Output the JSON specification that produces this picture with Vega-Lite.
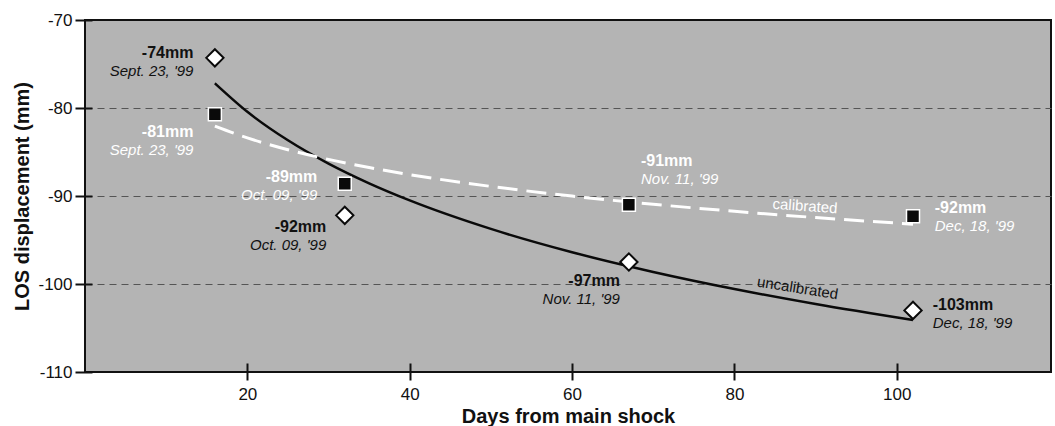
{
  "$schema": "https://vega.github.io/schema/vega-lite/v6.json",
  "width": 966,
  "height": 352,
  "autosize": {"type": "none"},
  "padding": {"left": 85, "top": 20, "right": 4, "bottom": 54},
  "background": "white",
  "config": {
    "view": {"fill": "#b4b4b4", "stroke": "#111111", "strokeWidth": 2},
    "font": "Liberation Sans"
  },
  "datasets": {
    "points": [
      {"series": "uncalibrated", "day": 16, "los": -74.3},
      {"series": "uncalibrated", "day": 32, "los": -92.2},
      {"series": "uncalibrated", "day": 67, "los": -97.5},
      {"series": "uncalibrated", "day": 102, "los": -103.0},
      {"series": "calibrated", "day": 16, "los": -80.7},
      {"series": "calibrated", "day": 32, "los": -88.6},
      {"series": "calibrated", "day": 67, "los": -91.0},
      {"series": "calibrated", "day": 102, "los": -92.3}
    ],
    "curves": [
      {"series": "uncalibrated", "day": 16, "los": -77.19},
      {"series": "uncalibrated", "day": 20, "los": -80.43},
      {"series": "uncalibrated", "day": 25, "los": -83.67},
      {"series": "uncalibrated", "day": 30, "los": -86.32},
      {"series": "uncalibrated", "day": 35, "los": -88.56},
      {"series": "uncalibrated", "day": 40, "los": -90.5},
      {"series": "uncalibrated", "day": 50, "los": -93.74},
      {"series": "uncalibrated", "day": 60, "los": -96.39},
      {"series": "uncalibrated", "day": 70, "los": -98.63},
      {"series": "uncalibrated", "day": 80, "los": -100.57},
      {"series": "uncalibrated", "day": 90, "los": -102.28},
      {"series": "uncalibrated", "day": 102, "los": -104.1},
      {"series": "calibrated", "day": 16, "los": -82.05},
      {"series": "calibrated", "day": 20, "los": -83.39},
      {"series": "calibrated", "day": 25, "los": -84.74},
      {"series": "calibrated", "day": 30, "los": -85.84},
      {"series": "calibrated", "day": 35, "los": -86.76},
      {"series": "calibrated", "day": 40, "los": -87.57},
      {"series": "calibrated", "day": 50, "los": -88.91},
      {"series": "calibrated", "day": 60, "los": -90.01},
      {"series": "calibrated", "day": 70, "los": -90.94},
      {"series": "calibrated", "day": 80, "los": -91.74},
      {"series": "calibrated", "day": 90, "los": -92.45},
      {"series": "calibrated", "day": 102, "los": -93.2}
    ],
    "labels": [
      {"series": "uncalibrated", "side": "left", "lx": 13.36, "ly": -73.75, "val": "-74mm", "date": "Sept. 23, '99"},
      {"series": "uncalibrated", "side": "left", "lx": 29.72, "ly": -93.52, "val": "-92mm", "date": "Oct. 09, '99"},
      {"series": "uncalibrated", "side": "left", "lx": 65.9, "ly": -99.66, "val": "-97mm", "date": "Nov. 11, '99"},
      {"series": "uncalibrated", "side": "right", "lx": 104.43, "ly": -102.39, "val": "-103mm", "date": "Dec, 18, '99"},
      {"series": "calibrated", "side": "left", "lx": 13.36, "ly": -82.73, "val": "-81mm", "date": "Sept. 23, '99"},
      {"series": "calibrated", "side": "left", "lx": 28.62, "ly": -87.84, "val": "-89mm", "date": "Oct. 09, '99"},
      {"series": "calibrated", "side": "right", "lx": 68.49, "ly": -86.02, "val": "-91mm", "date": "Nov. 11, '99"},
      {"series": "calibrated", "side": "right", "lx": 104.68, "ly": -91.36, "val": "-92mm", "date": "Dec, 18, '99"}
    ],
    "curveLabels": [
      {"series": "calibrated", "lx": 88.7, "ly": -91.14, "text": "calibrated"},
      {"series": "uncalibrated", "lx": 87.8, "ly": -100.45, "text": "uncalibrated"}
    ]
  },
  "encoding": {
    "x": {
      "field": "day", "type": "quantitative",
      "scale": {"domain": [0, 119], "nice": false, "zero": false},
      "axis": {
        "values": [20, 40, 60, 80, 100],
        "grid": false, "domain": false, "offset": -9,
        "tickSize": 17, "tickWidth": 2, "tickColor": "#111111",
        "labelFontSize": 17, "labelColor": "#111111", "labelPadding": 6,
        "title": "Days from main shock", "titleFontSize": 20, "titleFontWeight": "bold",
        "titleColor": "#111111", "titleY": 53, "titleBaseline": "middle"
      }
    },
    "y": {
      "field": "los", "type": "quantitative",
      "scale": {"domain": [-110, -70], "nice": false, "zero": false},
      "axis": {
        "values": [-110, -100, -90, -80, -70],
        "labelExpr": "replace(datum.label, '\u2212', '-')",
        "domain": false, "offset": -7,
        "tickSize": 17, "tickWidth": 2, "tickColor": "#111111",
        "labelFontSize": 17, "labelColor": "#111111", "labelPadding": 3,
        "grid": true, "gridDash": [7, 5], "gridColor": "#555555", "gridWidth": 1,
        "gridOpacity": {"condition": {"test": "datum.value === -70 || datum.value === -110", "value": 0}, "value": 1},
        "title": "LOS displacement (mm)", "titleFontSize": 20, "titleFontWeight": "bold",
        "titleColor": "#111111", "titleX": -70, "titleBaseline": "middle"
      }
    }
  },
  "layer": [
    {
      "data": {"name": "curves"},
      "transform": [{"filter": "datum.series === 'uncalibrated'"}],
      "mark": {"type": "line", "color": "#0a0a0a", "strokeWidth": 2.5, "interpolate": "monotone"},
      "encoding": {}
    },
    {
      "data": {"name": "curves"},
      "transform": [{"filter": "datum.series === 'calibrated'"}],
      "mark": {"type": "line", "color": "#ffffff", "strokeWidth": 3, "strokeDash": [20, 9], "interpolate": "monotone"},
      "encoding": {}
    },
    {
      "data": {"name": "points"},
      "transform": [{"filter": "datum.series === 'uncalibrated'"}],
      "mark": {"type": "point", "shape": "diamond", "size": 300, "filled": true, "fill": "#ffffff", "stroke": "#0a0a0a", "strokeWidth": 2, "opacity": 1}
    },
    {
      "data": {"name": "points"},
      "transform": [{"filter": "datum.series === 'calibrated'"}],
      "mark": {"type": "point", "shape": "square", "size": 169, "filled": true, "fill": "#0a0a0a", "stroke": "#ffffff", "strokeWidth": 1.5, "opacity": 1}
    },
    {
      "data": {"name": "labels"},
      "transform": [{"filter": "datum.side === 'left'"}],
      "mark": {"type": "text", "align": "right", "baseline": "middle", "fontSize": 16, "fontWeight": "bold"},
      "encoding": {
        "x": {"field": "lx", "type": "quantitative"},
        "y": {"field": "ly", "type": "quantitative"},
        "text": {"field": "val"},
        "color": {"field": "series", "type": "nominal", "scale": {"domain": ["uncalibrated", "calibrated"], "range": ["#111111", "#ffffff"]}, "legend": null}
      }
    },
    {
      "data": {"name": "labels"},
      "transform": [{"filter": "datum.side === 'right'"}],
      "mark": {"type": "text", "align": "left", "baseline": "middle", "fontSize": 16, "fontWeight": "bold"},
      "encoding": {
        "x": {"field": "lx", "type": "quantitative"},
        "y": {"field": "ly", "type": "quantitative"},
        "text": {"field": "val"},
        "color": {"field": "series", "type": "nominal", "scale": {"domain": ["uncalibrated", "calibrated"], "range": ["#111111", "#ffffff"]}, "legend": null}
      }
    },
    {
      "data": {"name": "labels"},
      "transform": [{"filter": "datum.side === 'left'"}],
      "mark": {"type": "text", "align": "right", "baseline": "middle", "fontSize": 15, "fontStyle": "italic", "dy": 18},
      "encoding": {
        "x": {"field": "lx", "type": "quantitative"},
        "y": {"field": "ly", "type": "quantitative"},
        "text": {"field": "date"},
        "color": {"field": "series", "type": "nominal", "scale": {"domain": ["uncalibrated", "calibrated"], "range": ["#111111", "#ffffff"]}, "legend": null}
      }
    },
    {
      "data": {"name": "labels"},
      "transform": [{"filter": "datum.side === 'right'"}],
      "mark": {"type": "text", "align": "left", "baseline": "middle", "fontSize": 15, "fontStyle": "italic", "dy": 18},
      "encoding": {
        "x": {"field": "lx", "type": "quantitative"},
        "y": {"field": "ly", "type": "quantitative"},
        "text": {"field": "date"},
        "color": {"field": "series", "type": "nominal", "scale": {"domain": ["uncalibrated", "calibrated"], "range": ["#111111", "#ffffff"]}, "legend": null}
      }
    },
    {
      "data": {"name": "curveLabels"},
      "transform": [{"filter": "datum.series === 'calibrated'"}],
      "mark": {"type": "text", "align": "center", "baseline": "middle", "fontSize": 15, "angle": 4, "color": "#ffffff"},
      "encoding": {
        "x": {"field": "lx", "type": "quantitative"},
        "y": {"field": "ly", "type": "quantitative"},
        "text": {"field": "text"}
      }
    },
    {
      "data": {"name": "curveLabels"},
      "transform": [{"filter": "datum.series === 'uncalibrated'"}],
      "mark": {"type": "text", "align": "center", "baseline": "middle", "fontSize": 15, "angle": 9, "color": "#111111"},
      "encoding": {
        "x": {"field": "lx", "type": "quantitative"},
        "y": {"field": "ly", "type": "quantitative"},
        "text": {"field": "text"}
      }
    }
  ]
}
